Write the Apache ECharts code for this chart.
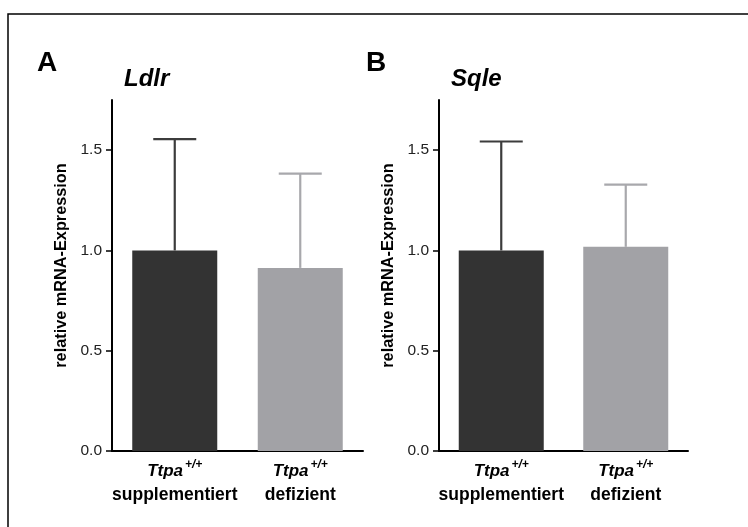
<!DOCTYPE html>
<html><head><meta charset="utf-8">
<script src="https://cdn.jsdelivr.net/npm/echarts@6/dist/echarts.min.js"></script>
<style>html,body{margin:0;padding:0;background:#fff}#c{width:748px;height:527px}</style>
</head><body><div id="c"></div>
<script>
const categories = ['supplementiert', 'defizient'];
const genotype = 'Ttpa';
const genotypeSup = '+/+';
const panelLetters = ['A', 'B'];
const geneNames = ['Ldlr', 'Sqle'];
const ldlrMeans = [1.0, 0.913];
const ldlrUpper = [1.555, 1.383];
const sqleMeans = [1.0, 1.018];
const sqleUpper = [1.543, 1.328];
const yTicks = [0, 0.5, 1.0, 1.5];
const yAxisTitle = 'relative mRNA-Expression';

const FONT = 'Liberation Sans, Arial, sans-serif';
const barColors = ['#333333', '#a2a2a6'];
const errColors = ['#3c3c3c', '#a8a8ac'];

const chart = echarts.init(document.getElementById('c'));
const grids = [
  {left: 112, top: 100, width: 251, height: 351},
  {left: 439, top: 100, width: 249, height: 351}
];
const means = [ldlrMeans, sqleMeans];
const uppers = [ldlrUpper, sqleUpper];

function xAxis(i) {
  return {
    type: 'category', gridIndex: i, data: categories,
    axisLine: {lineStyle: {color: '#000', width: 2}},
    axisTick: {alignWithLabel: true, length: 5, lineStyle: {color: '#000', width: 2}},
    axisLabel: {
      margin: 8, interval: 0,
      formatter: v => '{i|' + genotype + '}{s|' + genotypeSup + '}\n{b|' + v + '}',
      rich: {
        i: {fontFamily: FONT, fontSize: 17, fontWeight: 'bold', fontStyle: 'italic', color: '#000', lineHeight: 25},
        s: {fontFamily: FONT, fontSize: 12, fontWeight: 'bold', fontStyle: 'italic', color: '#000', verticalAlign: 'top', padding: [0, 0, 10, 2], lineHeight: 25},
        b: {fontFamily: FONT, fontSize: 17.5, fontWeight: 'bold', color: '#000', lineHeight: 22}
      }
    }
  };
}
function yAxis(i) {
  return {
    type: 'value', gridIndex: i, min: 0, max: 1.75, interval: 0.5,
    name: yAxisTitle, nameLocation: 'middle', nameGap: 42, nameRotate: 90,
    nameTextStyle: {fontFamily: FONT, fontSize: 16.3, fontWeight: 'bold', color: '#000', padding: [0, 0, 0, 20]},
    splitLine: {show: false},
    axisLine: {show: true, lineStyle: {color: '#000', width: 2}},
    axisTick: {show: true, length: 6, customValues: yTicks, lineStyle: {color: '#000', width: 1.5}},
    axisLabel: {customValues: yTicks, margin: 10, fontFamily: FONT, fontSize: 15.5, color: '#222',
      formatter: v => v.toFixed(1)}
  };
}

const series = [];
for (let i = 0; i < 2; i++) {
  series.push({
    type: 'bar', xAxisIndex: i, yAxisIndex: i, barWidth: 85,
    data: means[i].map((v, k) => ({value: v, itemStyle: {color: barColors[k]}})),
    z: 2
  });
  series.push({
    type: 'custom', xAxisIndex: i, yAxisIndex: i, z: 1,
    data: means[i].map((v, k) => [k, v, uppers[i][k]]),
    renderItem: (params, api) => {
      const k = api.value(0);
      const p0 = api.coord([k, api.value(1)]);
      const p1 = api.coord([k, api.value(2)]);
      const half = 21.5;
      const st = {stroke: errColors[k], lineWidth: 2.2};
      return {type: 'group', children: [
        {type: 'line', shape: {x1: p0[0], y1: p0[1], x2: p1[0], y2: p1[1]}, style: st},
        {type: 'line', shape: {x1: p1[0] - half, y1: p1[1], x2: p1[0] + half, y2: p1[1]}, style: st}
      ]};
    }
  });
}

chart.setOption({
  animation: false,
  backgroundColor: '#fff',
  grid: grids,
  xAxis: [xAxis(0), xAxis(1)],
  yAxis: [yAxis(0), yAxis(1)],
  series: series,
  graphic: [
    {type: 'rect', shape: {x: 8, y: 14, width: 760, height: 540}, style: {fill: 'none', stroke: '#000', lineWidth: 1.5}},
    {type: 'text', x: 37, y: 49, style: {text: panelLetters[0], font: 'bold 28px ' + FONT, fill: '#000'}},
    {type: 'text', x: 124, y: 67, style: {text: geneNames[0], font: 'italic bold 24px ' + FONT, fill: '#000'}},
    {type: 'text', x: 366, y: 49, style: {text: panelLetters[1], font: 'bold 28px ' + FONT, fill: '#000'}},
    {type: 'text', x: 451, y: 67, style: {text: geneNames[1], font: 'italic bold 24px ' + FONT, fill: '#000'}}
  ]
});
</script></body></html>
